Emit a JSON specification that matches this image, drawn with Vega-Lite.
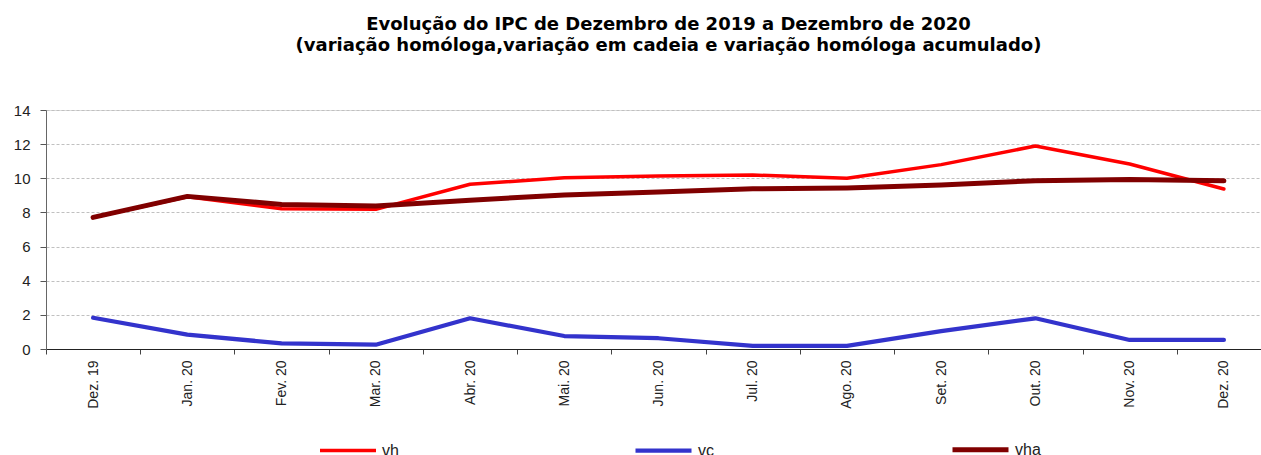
{
  "$schema": "https://vega.github.io/schema/vega-lite/v6.json",
  "width": 1215,
  "height": 239,
  "autosize": {"type": "none"},
  "padding": {"left": 46, "top": 110, "right": 0, "bottom": 106},
  "background": "white",
  "config": {"font": "Liberation Sans"},
  "title": {
    "text": ["Evolução do IPC  de Dezembro de 2019 a Dezembro de 2020", "(variação homóloga,variação em cadeia e variação homóloga acumulado)"],
    "font": "DejaVu Sans",
    "fontSize": 18,
    "fontWeight": "bold",
    "color": "#000000",
    "anchor": "middle",
    "frame": "group",
    "offset": 48,
    "lineHeight": 21,
    "dx": 15
  },
  "data": {
    "values": [
      {"m": "Dez. 19", "s": "vh", "v": 7.71},
      {"m": "Jan. 20", "s": "vh", "v": 8.92},
      {"m": "Fev. 20", "s": "vh", "v": 8.22},
      {"m": "Mar. 20", "s": "vh", "v": 8.18},
      {"m": "Abr. 20", "s": "vh", "v": 9.65},
      {"m": "Mai. 20", "s": "vh", "v": 10.03},
      {"m": "Jun. 20", "s": "vh", "v": 10.13},
      {"m": "Jul. 20", "s": "vh", "v": 10.19},
      {"m": "Ago. 20", "s": "vh", "v": 10.0},
      {"m": "Set. 20", "s": "vh", "v": 10.8},
      {"m": "Out. 20", "s": "vh", "v": 11.89},
      {"m": "Nov. 20", "s": "vh", "v": 10.84},
      {"m": "Dez. 20", "s": "vh", "v": 9.37},
      {"m": "Dez. 19", "s": "vc", "v": 1.83},
      {"m": "Jan. 20", "s": "vc", "v": 0.84},
      {"m": "Fev. 20", "s": "vc", "v": 0.33},
      {"m": "Mar. 20", "s": "vc", "v": 0.25},
      {"m": "Abr. 20", "s": "vc", "v": 1.8},
      {"m": "Mai. 20", "s": "vc", "v": 0.76},
      {"m": "Jun. 20", "s": "vc", "v": 0.63},
      {"m": "Jul. 20", "s": "vc", "v": 0.18},
      {"m": "Ago. 20", "s": "vc", "v": 0.18},
      {"m": "Set. 20", "s": "vc", "v": 1.05},
      {"m": "Out. 20", "s": "vc", "v": 1.8},
      {"m": "Nov. 20", "s": "vc", "v": 0.53},
      {"m": "Dez. 20", "s": "vc", "v": 0.53},
      {"m": "Dez. 19", "s": "vha", "v": 7.71},
      {"m": "Jan. 20", "s": "vha", "v": 8.94},
      {"m": "Fev. 20", "s": "vha", "v": 8.47},
      {"m": "Mar. 20", "s": "vha", "v": 8.38},
      {"m": "Abr. 20", "s": "vha", "v": 8.72},
      {"m": "Mai. 20", "s": "vha", "v": 9.02},
      {"m": "Jun. 20", "s": "vha", "v": 9.2},
      {"m": "Jul. 20", "s": "vha", "v": 9.38},
      {"m": "Ago. 20", "s": "vha", "v": 9.43},
      {"m": "Set. 20", "s": "vha", "v": 9.6},
      {"m": "Out. 20", "s": "vha", "v": 9.86},
      {"m": "Nov. 20", "s": "vha", "v": 9.93},
      {"m": "Dez. 20", "s": "vha", "v": 9.85}
    ]
  },
  "mark": {"type": "line", "strokeCap": "round", "strokeJoin": "round"},
  "encoding": {
    "x": {
      "field": "m",
      "type": "ordinal",
      "sort": null,
      "scale": {"type": "band", "range": [0, 1225], "paddingInner": 0, "paddingOuter": 0},
      "axis": {
        "title": null,
        "labelAngle": 270,
        "labelFont": "Liberation Sans",
        "labelFontSize": 14,
        "labelColor": "#222222",
        "labelPadding": 6,
        "tickBand": "extent",
        "tickSize": 5,
        "tickColor": "#444444",
        "domainColor": "#222222",
        "domainWidth": 1,
        "grid": false
      }
    },
    "y": {
      "field": "v",
      "type": "quantitative",
      "scale": {"domain": [0, 14], "nice": false, "zero": true},
      "axis": {
        "title": null,
        "values": [0, 2, 4, 6, 8, 10, 12, 14],
        "labelFont": "Liberation Sans",
        "labelFontSize": 15,
        "labelColor": "#222222",
        "labelPadding": 10,
        "tickSize": 6,
        "tickColor": "#555555",
        "domainColor": "#666666",
        "grid": true,
        "gridColor": "#c0c0c0",
        "gridDash": [3, 2],
        "gridWidth": 1
      }
    },
    "color": {
      "field": "s",
      "type": "nominal",
      "sort": null,
      "scale": {"domain": ["vh", "vc", "vha"], "range": ["#ff0000", "#3333cc", "#800000"]},
      "legend": {
        "title": null,
        "orient": "none",
        "legendX": 272,
        "legendY": 309,
        "direction": "horizontal",
        "symbolType": "stroke",
        "symbolSize": 3136,
        "symbolStrokeWidth": 5,
        "labelFont": "Liberation Sans",
        "labelFontSize": 16,
        "labelColor": "#222222",
        "labelBaseline": "middle",
        "labelOffset": 4,
        "columnPadding": 228
      }
    },
    "strokeWidth": {
      "field": "s",
      "type": "nominal",
      "scale": {"domain": ["vh", "vc", "vha"], "range": [3.5, 5, 5.5]},
      "legend": null
    }
  }
}
